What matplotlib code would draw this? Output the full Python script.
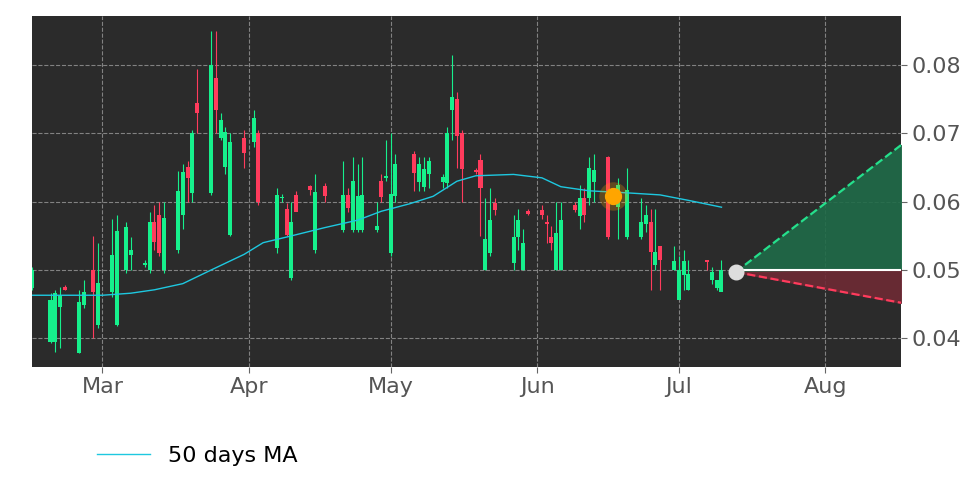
import matplotlib
matplotlib.use("Agg")
import matplotlib.pyplot as plt
import matplotlib.dates as mdates
import pandas as pd
import numpy as np

dates = ["2025-02-14","2025-02-18","2025-02-19","2025-02-20","2025-02-21","2025-02-24","2025-02-25","2025-02-27","2025-02-28",
"2025-03-03","2025-03-04","2025-03-06","2025-03-07","2025-03-10","2025-03-11","2025-03-12","2025-03-13","2025-03-14",
"2025-03-17","2025-03-18","2025-03-19","2025-03-20","2025-03-21","2025-03-24","2025-03-25","2025-03-26","2025-03-27","2025-03-28",
"2025-03-31","2025-04-02","2025-04-03","2025-04-07","2025-04-08","2025-04-09","2025-04-10","2025-04-11","2025-04-14","2025-04-15",
"2025-04-17","2025-04-21","2025-04-22","2025-04-23","2025-04-24","2025-04-25","2025-04-28","2025-04-29","2025-04-30","2025-05-01",
"2025-05-02","2025-05-06","2025-05-07","2025-05-08","2025-05-09","2025-05-12","2025-05-13","2025-05-14","2025-05-15","2025-05-16",
"2025-05-19","2025-05-20","2025-05-21","2025-05-22","2025-05-23","2025-05-27","2025-05-28","2025-05-29","2025-05-30","2025-06-02",
"2025-06-03","2025-06-04","2025-06-05","2025-06-06","2025-06-09","2025-06-10","2025-06-11","2025-06-12","2025-06-13","2025-06-16",
"2025-06-18","2025-06-20","2025-06-23","2025-06-24","2025-06-25","2025-06-26","2025-06-27","2025-06-30","2025-07-01","2025-07-02",
"2025-07-03","2025-07-07","2025-07-08","2025-07-09","2025-07-10"]
opens = [0.0474,0.0395,0.0395,0.0446,0.0475,0.0379,0.0449,0.0500,0.0420,
0.0468,0.0420,0.0500,0.0522,0.0507,0.0500,0.0570,0.0580,0.0500,
0.0529,0.0580,0.0651,0.0613,0.0744,0.0613,0.0781,0.0694,0.0651,0.0551,
0.0693,0.0687,0.0700,0.0532,0.0605,0.0589,0.0488,0.0610,0.0623,0.0529,
0.0623,0.0558,0.0610,0.0558,0.0558,0.0558,0.0558,0.0630,0.0635,0.0525,
0.0608,0.0670,0.0629,0.0621,0.0640,0.0629,0.0627,0.0734,0.0750,0.0700,
0.0647,0.0661,0.0500,0.0525,0.0598,0.0510,0.0548,0.0500,0.0586,0.0588,
0.0570,0.0548,0.0500,0.0500,0.0595,0.0579,0.0605,0.0605,0.0629,0.0665,
0.0592,0.0548,0.0548,0.0567,0.0570,0.0507,0.0535,0.0500,0.0456,0.0493,
0.0471,0.0515,0.0485,0.0474,0.0468]
closes = [0.0500,0.0456,0.0466,0.0463,0.0471,0.0453,0.0468,0.0468,0.0481,
0.0522,0.0557,0.0563,0.0529,0.0510,0.0570,0.0541,0.0525,0.0576,
0.0616,0.0643,0.0635,0.0700,0.0730,0.0800,0.0734,0.0719,0.0702,0.0687,
0.0671,0.0722,0.0599,0.0610,0.0606,0.0551,0.0570,0.0585,0.0617,0.0614,
0.0608,0.0610,0.0591,0.0630,0.0608,0.0610,0.0564,0.0607,0.0636,0.0611,
0.0655,0.0642,0.0655,0.0648,0.0659,0.0636,0.0700,0.0753,0.0697,0.0648,
0.0644,0.0620,0.0545,0.0573,0.0588,0.0548,0.0573,0.0539,0.0582,0.0580,
0.0567,0.0539,0.0554,0.0573,0.0588,0.0605,0.0580,0.0649,0.0646,0.0548,
0.0625,0.0617,0.0570,0.0580,0.0526,0.0526,0.0515,0.0513,0.0500,0.0513,
0.0494,0.0511,0.0497,0.0485,0.0500]
highs = [0.0505,0.0467,0.0470,0.0475,0.0478,0.0470,0.0485,0.0550,0.0540,
0.0575,0.0580,0.0570,0.0548,0.0515,0.0585,0.0595,0.0600,0.0600,
0.0645,0.0655,0.0660,0.0705,0.0795,0.0850,0.0850,0.0730,0.0710,0.0700,
0.0705,0.0735,0.0705,0.0620,0.0612,0.0598,0.0600,0.0615,0.0625,0.0640,
0.0628,0.0660,0.0620,0.0665,0.0655,0.0665,0.0600,0.0640,0.0690,0.0700,
0.0670,0.0675,0.0665,0.0665,0.0665,0.0640,0.0710,0.0815,0.0760,0.0705,
0.0650,0.0670,0.0605,0.0620,0.0605,0.0580,0.0590,0.0560,0.0590,0.0595,
0.0580,0.0565,0.0600,0.0600,0.0600,0.0625,0.0620,0.0665,0.0670,0.0667,
0.0635,0.0650,0.0605,0.0595,0.0590,0.0590,0.0525,0.0535,0.0520,0.0530,
0.0515,0.0515,0.0505,0.0485,0.0515]
lows = [0.0470,0.0393,0.0380,0.0385,0.0470,0.0378,0.0445,0.0400,0.0415,
0.0460,0.0418,0.0495,0.0500,0.0505,0.0495,0.0530,0.0520,0.0495,
0.0525,0.0560,0.0600,0.0600,0.0700,0.0610,0.0700,0.0690,0.0640,0.0550,
0.0650,0.0680,0.0595,0.0525,0.0600,0.0550,0.0485,0.0590,0.0610,0.0525,
0.0600,0.0555,0.0585,0.0555,0.0555,0.0555,0.0555,0.0600,0.0630,0.0520,
0.0600,0.0615,0.0615,0.0615,0.0620,0.0620,0.0620,0.0690,0.0650,0.0600,
0.0640,0.0550,0.0500,0.0520,0.0580,0.0500,0.0530,0.0500,0.0580,0.0575,
0.0540,0.0530,0.0500,0.0500,0.0585,0.0560,0.0570,0.0595,0.0600,0.0545,
0.0545,0.0545,0.0545,0.0555,0.0470,0.0500,0.0470,0.0500,0.0470,0.0470,
0.0470,0.0500,0.0480,0.0470,0.0470]

ma_dates = ["2025-02-14","2025-03-01","2025-03-07","2025-03-12","2025-03-18","2025-03-24","2025-03-31","2025-04-04","2025-04-10",
"2025-04-17","2025-04-24","2025-04-29","2025-05-05","2025-05-10","2025-05-15","2025-05-19","2025-05-27","2025-06-02",
"2025-06-06","2025-06-12","2025-06-20","2025-06-27","2025-07-03","2025-07-10"]
ma_vals = [0.0463,0.0463,0.0466,0.0471,0.0480,0.0500,0.0523,0.0540,0.0550,
0.0562,0.0573,0.0586,0.0597,0.0608,0.0630,0.0638,0.0640,0.0635,
0.0622,0.0616,0.0613,0.0610,0.0602,0.0592]

last_date, last_price = "2025-07-13", 0.0497
end_date, upper_end, lower_end = "2025-08-17", 0.0683, 0.0452
signal_date, signal_price = "2025-06-17", 0.0608

GREEN = "#16f08c"; RED = "#ff3b5c"

fig = plt.figure(figsize=(9.72, 4.86), dpi=100)
ax = fig.add_axes([0.033, 0.245, 0.894, 0.722])
ax.set_facecolor("#2b2b2b")

d = mdates.date2num(pd.to_datetime(dates))
o = np.array(opens); c = np.array(closes); h = np.array(highs); l = np.array(lows)
for xi, oi, ci, hi, li in zip(d, o, c, h, l):
    col = GREEN if ci >= oi else RED
    ax.vlines(xi, li, hi, color=col, lw=0.8, zorder=2)
    ax.bar(xi, abs(ci - oi) if abs(ci - oi) > 0.0002 else 0.0002, bottom=min(oi, ci), width=0.85, color=col, zorder=3)

md = mdates.date2num(pd.to_datetime(ma_dates))
ax.plot(md, ma_vals, color="#1ec8e0", lw=1.0, zorder=4, label="50 days MA")

x0 = mdates.date2num(pd.Timestamp(last_date)); x1 = mdates.date2num(pd.Timestamp(end_date))
ax.fill_between([x0, x1], [last_price, 0.05], [last_price, upper_end], color="#1f6b48", alpha=0.9, zorder=1)
ax.fill_between([x0, x1], [last_price, lower_end], [last_price, 0.05], color="#6e2a35", alpha=0.9, zorder=1)
ax.plot([x0, x1], [last_price, upper_end], color="#25e08c", ls="--", lw=1.6, zorder=4)
ax.plot([x0, x1], [last_price, lower_end], color="#ff3b5c", ls="--", lw=1.6, zorder=4)
ax.plot([x0, x1], [0.05, 0.05], color="white", lw=1.5, zorder=4)
ax.scatter([x0], [last_price], s=110, color="#dddddd", zorder=6)
sx = mdates.date2num(pd.Timestamp(signal_date))
ax.scatter([sx], [signal_price], s=420, color="orange", alpha=0.25, zorder=5, lw=0)
ax.scatter([sx], [signal_price], s=130, color="orange", zorder=6)

ax.set_xlim(mdates.date2num(pd.Timestamp("2025-02-14")) + 0.1, x1)
ax.set_ylim(0.0358, 0.0872)
ax.yaxis.tick_right()
ax.set_yticks([0.04, 0.05, 0.06, 0.07, 0.08])
ax.yaxis.set_major_formatter(matplotlib.ticker.FormatStrFormatter("%.2f"))
ax.xaxis.set_major_locator(mdates.MonthLocator())
ax.xaxis.set_major_formatter(mdates.DateFormatter("%b"))
ax.tick_params(axis="both", labelsize=16, colors="#666666", length=4)
ax.tick_params(axis="both", labelcolor="#555555")
ax.grid(True, color="#999999", ls="--", lw=0.8, alpha=0.8)
ax.set_axisbelow(True)
for s in ax.spines.values():
    s.set_visible(False)

fig.legend(loc="lower left", bbox_to_anchor=(0.079, 0.0), frameon=False, fontsize=16, handlelength=2.4)
fig.savefig("out.png", dpi=100, facecolor="white")
